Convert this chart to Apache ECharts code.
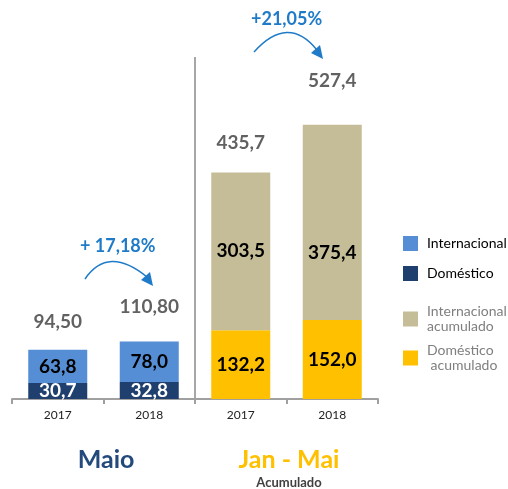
<!DOCTYPE html>
<html>
<head>
<meta charset="utf-8">
<script src="https://cdn.jsdelivr.net/npm/echarts@6/dist/echarts.min.js"></script>
<style>
  html, body { margin: 0; padding: 0; background: #fff; }
  #chart { width: 508px; height: 489px; }
</style>
</head>
<body>
<div id="chart"></div>
<script>
var categories = ['2017', '2018', '2017', '2018'];
var domestico = [30.7, 32.8, '-', '-'];
var internacional = [63.8, 78.0, '-', '-'];
var domesticoAcum = ['-', '-', 132.2, 152.0];
var internacionalAcum = ['-', '-', 303.5, 375.4];
var totals = [94.50, 110.80, 435.7, 527.4];
var totalDecimals = [2, 2, 1, 1];
var totalGap = [18, 25, 20, 34];
var growthLabels = ['+ 17,18%', '+21,05%'];

var FONT = 'Lato, "Open Sans", sans-serif';

function fmt(v, d) {
    return v.toFixed(d).replace('.', ',');
}

var insideLabel = function (color) {
    return {
        show: true,
        position: 'inside',
        color: color,
        fontFamily: FONT,
        fontWeight: 'bold',
        fontSize: 19,
        formatter: function (p) { return fmt(p.value, 1); }
    };
};

function legendAt(name, top, color, text) {
    return {
        orient: 'vertical',
        left: 398,
        top: top,
        icon: 'rect',
        itemWidth: 15,
        itemHeight: 15,
        selectedMode: false,
        data: [name],
        formatter: function () { return text; },
        textStyle: {color: color, fontSize: 14, fontFamily: FONT, lineHeight: 15, padding: [0, 0, 0, 4]}
    };
}

var option = {
    animation: false,
    grid: {left: 12, right: 130, top: 35, bottom: 90},
    legend: [
        legendAt('Internacional', 231, '#000', 'Internacional'),
        legendAt('Doméstico', 261, '#000', 'Doméstico'),
        legendAt('Internacional acumulado', 299, '#7f7f7f', 'Internacional\nacumulado'),
        legendAt('Doméstico acumulado', 338, '#7f7f7f', 'Doméstico\n acumulado')
    ],
    xAxis: {
        type: 'category',
        data: categories,
        axisLine: {lineStyle: {color: '#a0a0a0', width: 2}},
        axisTick: {show: true, length: 5, lineStyle: {color: '#a0a0a0', width: 2}},
        axisLabel: {color: '#222', fontSize: 12, fontFamily: FONT, margin: 10}
    },
    yAxis: {
        type: 'value',
        min: 0,
        max: 700,
        show: false
    },
    series: [
        {
            name: 'Doméstico',
            type: 'bar',
            stack: 'total',
            barWidth: 59,
            itemStyle: {color: '#1f3f6e'},
            label: insideLabel('#fff'),
            data: domestico
        },
        {
            name: 'Internacional',
            type: 'bar',
            stack: 'total',
            barWidth: 59,
            itemStyle: {color: '#558ed5'},
            label: insideLabel('#000'),
            data: internacional
        },
        {
            name: 'Doméstico acumulado',
            type: 'bar',
            stack: 'total',
            barWidth: 59,
            itemStyle: {color: '#ffc000'},
            label: insideLabel('#000'),
            data: domesticoAcum
        },
        {
            name: 'Internacional acumulado',
            type: 'bar',
            stack: 'total',
            barWidth: 59,
            itemStyle: {color: '#c4bd97'},
            label: insideLabel('#000'),
            data: internacionalAcum.map(function (v, i) {
                return i === 3 ? {value: v, label: {offset: [0, 31]}} : v;
            })
        },
        {
            name: 'total',
            type: 'scatter',
            symbolSize: 1,
            itemStyle: {color: 'transparent'},
            silent: true,
            label: {
                show: true,
                position: 'top',
                color: '#3a3a3a',
                fontFamily: FONT,
                fontWeight: 'bold',
                fontSize: 19
            },
            data: totals.map(function (v, i) {
                return {
                    value: v,
                    label: {distance: totalGap[i], formatter: fmt(v, totalDecimals[i])}
                };
            })
        }
    ],
    graphic: [
        // separador Maio / Acumulado
        {type: 'line', shape: {x1: 195, y1: 57, x2: 195, y2: 399}, style: {stroke: '#a6a6a6', lineWidth: 2}},
        // setas de crescimento
        {type: 'bezierCurve', shape: {x1: 85, y1: 279, x2: 147, y2: 277, cpx1: 108, cpy1: 245},
            style: {stroke: '#1f7bc8', lineWidth: 1.5, fill: null}},
        {type: 'polygon', shape: {points: [[153, 286], [141, 280], [150, 272]]}, style: {fill: '#1f7bc8'}},
        {type: 'bezierCurve', shape: {x1: 254, y1: 52, x2: 317, y2: 50, cpx1: 288, cpy1: 14},
            style: {stroke: '#1f7bc8', lineWidth: 1.5, fill: null}},
        {type: 'polygon', shape: {points: [[323, 59], [311, 53], [320, 45]]}, style: {fill: '#1f7bc8'}},
        {type: 'text', left: 80, top: 237, style: {text: growthLabels[0], fill: '#1f7bc8', font: 'bold 18px ' + FONT}},
        {type: 'text', left: 251, top: 10, style: {text: growthLabels[1], fill: '#1f7bc8', font: 'bold 18px ' + FONT}},
        // títulos inferiores
        {type: 'text', x: 106, y: 460, style: {text: 'Maio', fill: '#244a7c', font: 'bold 25px ' + FONT, align: 'center', verticalAlign: 'middle'}},
        {type: 'text', x: 289, y: 460, style: {text: 'Jan - Mai', fill: '#ffc000', font: 'bold 25px ' + FONT, align: 'center', verticalAlign: 'middle'}},
        {type: 'text', x: 289, y: 483, style: {text: 'Acumulado', fill: '#404040', font: 'bold 13px ' + FONT, align: 'center', verticalAlign: 'middle'}}
    ]
};

var myChart = echarts.init(document.getElementById('chart'));
myChart.setOption(option);
</script>
</body>
</html>
